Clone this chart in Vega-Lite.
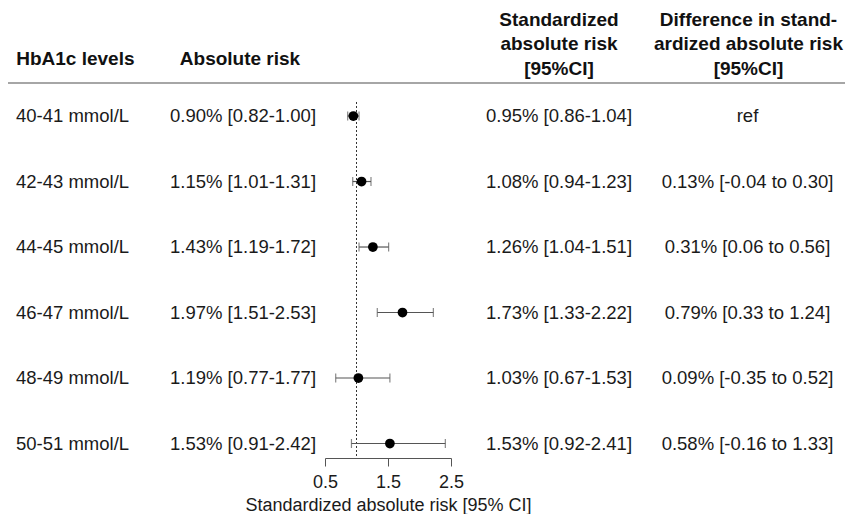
{
  "$schema": "https://vega.github.io/schema/vega-lite/v6.json",
  "background": "white",
  "padding": {"left": 7, "top": 10, "right": 0, "bottom": 0},
  "bounds": "flush",
  "spacing": 0,
  "config": {
    "font": "Liberation Sans",
    "view": {"stroke": null},
    "title": {"fontSize": 19, "fontWeight": "bold", "color": "#111111", "lineHeight": 24.5},
    "text": {"fontSize": 18.5, "color": "#1a1a1a"}
  },
  "datasets": {
    "rows": [
      {"row": 1, "level": "40-41 mmol/L", "abs_txt": "0.90% [0.82-1.00]", "std": 0.95, "std_lo": 0.86, "std_hi": 1.04, "std_txt": "0.95% [0.86-1.04]", "diff_txt": "ref"},
      {"row": 2, "level": "42-43 mmol/L", "abs_txt": "1.15% [1.01-1.31]", "std": 1.08, "std_lo": 0.94, "std_hi": 1.23, "std_txt": "1.08% [0.94-1.23]", "diff_txt": "0.13% [-0.04 to 0.30]"},
      {"row": 3, "level": "44-45 mmol/L", "abs_txt": "1.43% [1.19-1.72]", "std": 1.26, "std_lo": 1.04, "std_hi": 1.51, "std_txt": "1.26% [1.04-1.51]", "diff_txt": "0.31% [0.06 to 0.56]"},
      {"row": 4, "level": "46-47 mmol/L", "abs_txt": "1.97% [1.51-2.53]", "std": 1.73, "std_lo": 1.33, "std_hi": 2.22, "std_txt": "1.73% [1.33-2.22]", "diff_txt": "0.79% [0.33 to 1.24]"},
      {"row": 5, "level": "48-49 mmol/L", "abs_txt": "1.19% [0.77-1.77]", "std": 1.03, "std_lo": 0.67, "std_hi": 1.53, "std_txt": "1.03% [0.67-1.53]", "diff_txt": "0.09% [-0.35 to 0.52]"},
      {"row": 6, "level": "50-51 mmol/L", "abs_txt": "1.53% [0.91-2.42]", "std": 1.53, "std_lo": 0.92, "std_hi": 2.41, "std_txt": "1.53% [0.92-2.41]", "diff_txt": "0.58% [-0.16 to 1.33]"}
    ],
    "one": [{"ref": 1}]
  },
  "data": {"name": "rows"},
  "hconcat": [
    {
      "width": 153,
      "height": 375,
      "title": {"text": "HbA1c levels", "anchor": "start", "dx": 9, "offset": 13.5},
      "layer": [
        {
          "data": {"name": "one"},
          "mark": {"type": "rule", "color": "#888888", "strokeWidth": 1.5},
          "encoding": {"y": {"datum": 0.496, "type": "quantitative", "scale": {"domain": [0.496, 6.221], "reverse": true, "nice": false, "zero": false}, "axis": null}}
        },
        {
          "mark": {"type": "text", "align": "left", "dx": 8},
          "encoding": {
            "x": {"datum": 0, "type": "quantitative", "scale": {"domain": [0, 1], "nice": false}, "axis": null},
            "y": {"field": "row", "type": "quantitative", "scale": {"domain": [0.496, 6.221], "reverse": true, "nice": false, "zero": false}, "axis": null},
            "text": {"field": "level"}
          }
        }
      ]
    },
    {
      "width": 164,
      "height": 375,
      "title": {"text": "Absolute risk", "anchor": "middle", "dx": -3, "offset": 13.5},
      "layer": [
        {
          "data": {"name": "one"},
          "mark": {"type": "rule", "color": "#888888", "strokeWidth": 1.5},
          "encoding": {"y": {"datum": 0.496, "type": "quantitative", "scale": {"domain": [0.496, 6.221], "reverse": true, "nice": false, "zero": false}, "axis": null}}
        },
        {
          "mark": {"type": "text", "align": "center"},
          "encoding": {
            "y": {"field": "row", "type": "quantitative", "scale": {"domain": [0.496, 6.221], "reverse": true, "nice": false, "zero": false}, "axis": null},
            "text": {"field": "abs_txt"}
          }
        }
      ]
    },
    {
      "width": 126,
      "height": 375,
      "layer": [
        {
          "data": {"name": "one"},
          "mark": {"type": "rule", "color": "#888888", "strokeWidth": 1.5},
          "encoding": {"y": {"datum": 0.496, "type": "quantitative", "scale": {"domain": [0.496, 6.221], "reverse": true, "nice": false, "zero": false}, "axis": null}}
        },
        {
          "data": {"name": "one"},
          "mark": {"type": "rule", "color": "#333333", "strokeWidth": 1, "strokeDash": [2, 2]},
          "encoding": {
            "x": {"datum": 1, "type": "quantitative", "scale": {"domain": [0.5, 2.5], "nice": false, "zero": false}, "title": "Standardized absolute risk [95% CI]"},
            "y": {"datum": 0.786, "type": "quantitative", "scale": {"domain": [0.496, 6.221], "reverse": true, "nice": false, "zero": false}, "axis": null},
            "y2": {"datum": 6.221}
          }
        },
        {
          "mark": {"type": "rule", "color": "#555555", "strokeWidth": 1.2},
          "encoding": {
            "x": {"field": "std_lo", "type": "quantitative", "scale": {"domain": [0.5, 2.5], "nice": false, "zero": false}, "title": "Standardized absolute risk [95% CI]",
              "axis": {"values": [0.5, 1, 1.5, 2, 2.5], "format": ".1f", "labelExpr": "datum.value == 1 || datum.value == 2 ? '' : datum.label", "grid": false, "domainColor": "#555555", "tickColor": "#555555", "tickSize": 8, "labelPadding": 7, "labelFontSize": 18, "labelColor": "#1a1a1a", "titleFontSize": 18, "titleFontWeight": "normal", "titleColor": "#1a1a1a", "titlePadding": 5, "labelFlush": false, "labelOverlap": false}},
            "x2": {"field": "std_hi"},
            "y": {"field": "row", "type": "quantitative", "scale": {"domain": [0.496, 6.221], "reverse": true, "nice": false, "zero": false}, "axis": null}
          }
        },
        {
          "mark": {"type": "tick", "orient": "vertical", "color": "#555555", "thickness": 1.2, "size": 9},
          "encoding": {
            "x": {"field": "std_lo", "type": "quantitative", "scale": {"domain": [0.5, 2.5], "nice": false, "zero": false}, "title": "Standardized absolute risk [95% CI]"},
            "y": {"field": "row", "type": "quantitative", "scale": {"domain": [0.496, 6.221], "reverse": true, "nice": false, "zero": false}, "axis": null}
          }
        },
        {
          "mark": {"type": "tick", "orient": "vertical", "color": "#555555", "thickness": 1.2, "size": 9},
          "encoding": {
            "x": {"field": "std_hi", "type": "quantitative", "scale": {"domain": [0.5, 2.5], "nice": false, "zero": false}, "title": "Standardized absolute risk [95% CI]"},
            "y": {"field": "row", "type": "quantitative", "scale": {"domain": [0.496, 6.221], "reverse": true, "nice": false, "zero": false}, "axis": null}
          }
        },
        {
          "mark": {"type": "circle", "color": "black", "opacity": 1, "size": 95},
          "encoding": {
            "x": {"field": "std", "type": "quantitative", "scale": {"domain": [0.5, 2.5], "nice": false, "zero": false}, "title": "Standardized absolute risk [95% CI]"},
            "y": {"field": "row", "type": "quantitative", "scale": {"domain": [0.496, 6.221], "reverse": true, "nice": false, "zero": false}, "axis": null}
          }
        }
      ]
    },
    {
      "width": 216,
      "height": 375,
      "title": {"text": ["Standardized", "absolute risk", "[95%CI]"], "anchor": "middle", "offset": 3.5},
      "layer": [
        {
          "data": {"name": "one"},
          "mark": {"type": "rule", "color": "#888888", "strokeWidth": 1.5},
          "encoding": {"y": {"datum": 0.496, "type": "quantitative", "scale": {"domain": [0.496, 6.221], "reverse": true, "nice": false, "zero": false}, "axis": null}}
        },
        {
          "mark": {"type": "text", "align": "center"},
          "encoding": {
            "y": {"field": "row", "type": "quantitative", "scale": {"domain": [0.496, 6.221], "reverse": true, "nice": false, "zero": false}, "axis": null},
            "text": {"field": "std_txt"}
          }
        }
      ]
    },
    {
      "width": 179,
      "height": 375,
      "title": {"text": ["Difference in stand-", "ardized absolute risk", "[95%CI]"], "anchor": "middle", "dx": -8, "offset": 3.5},
      "layer": [
        {
          "data": {"name": "one"},
          "mark": {"type": "rule", "color": "#888888", "strokeWidth": 1.5},
          "encoding": {"y": {"datum": 0.496, "type": "quantitative", "scale": {"domain": [0.496, 6.221], "reverse": true, "nice": false, "zero": false}, "axis": null}}
        },
        {
          "mark": {"type": "text", "align": "center", "dx": -9},
          "encoding": {
            "y": {"field": "row", "type": "quantitative", "scale": {"domain": [0.496, 6.221], "reverse": true, "nice": false, "zero": false}, "axis": null},
            "text": {"field": "diff_txt"}
          }
        }
      ]
    }
  ]
}
